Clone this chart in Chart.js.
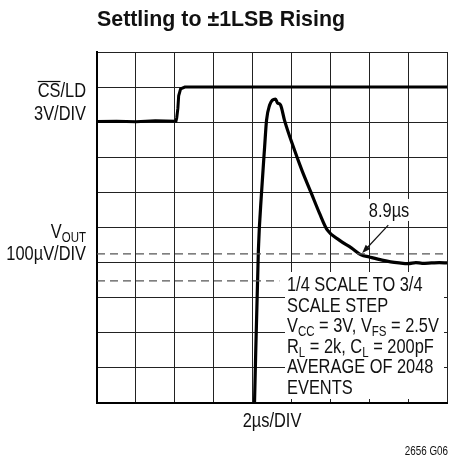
<!DOCTYPE html>
<html><head><meta charset="utf-8">
<script src="https://cdn.jsdelivr.net/npm/chart.js@4.4.0/dist/chart.umd.min.js"></script>
<style>html,body{margin:0;padding:0;background:#fff;}</style>
</head><body>
<canvas id="c" width="450" height="460"></canvas>
<script>
// ---- data (in screen divisions) ----
const titleText = 'Settling to ±1LSB Rising';
const xDivs = 9;
const yDivs = 10;
const csX = [0, 0.5, 1.0, 1.5, 2.03, 2.05, 2.08, 2.10, 2.15, 2.26, 3, 5, 7, 9];
const csY = [8.02, 8.03, 8.01, 8.04, 8.03, 8.12, 8.4, 8.75, 8.95, 9.0, 9.0, 9.0, 9.0, 9.0];
const voutX = [4.05, 4.15, 4.23, 4.31, 4.36, 4.44, 4.51, 4.59, 4.64, 4.72, 4.82, 5.08, 5.28, 5.51, 5.72, 5.92, 6.23, 6.54, 6.79, 7.00, 7.33, 7.55, 7.77, 8.00, 8.20, 8.36, 8.60, 8.80, 9.00];
const voutY = [0, 4.36, 5.98, 7.29, 8.06, 8.49, 8.63, 8.66, 8.55, 8.49, 8.06, 7.2, 6.6, 5.98, 5.41, 4.93, 4.64, 4.42, 4.22, 4.16, 4.07, 4.02, 3.99, 3.97, 4.0, 3.98, 3.99, 4.0, 3.99];
const band1X = [0, 9];
const band1Y = [4.25, 4.25];
const band2X = [0, 4.69];
const band2Y = [3.48, 3.48];
const arrowFrom = [7.49, 5.07];
const arrowTo = [6.82, 4.27];
const arrowLabel = '8.9µs';
const arrowLabelPos = [7.51, 5.5];
const xAxisLabel = '2µs/DIV';
const figureId = '2656 G06';
const noteLines = [
  [['1/4 SCALE TO 3/4', 0]],
  [['SCALE STEP', 0]],
  [['V', 0], ['CC', 1], [' = 3V, V', 0], ['FS', 1], [' = 2.5V', 0]],
  [['R', 0], ['L', 1], [' = 2k, C', 0], ['L', 1], [' = 200pF', 0]],
  [['AVERAGE OF 2048', 0]],
  [['EVENTS', 0]]
];

const FF = "'Liberation Sans', Arial, sans-serif";
const SX = 0.82; // condensed look
const pts = (xs, ys) => xs.map((x, i) => ({x, y: ys[i]}));

function drawRich(ctx, x, y, segs, size, align) {
  let total = 0;
  const widths = segs.map(([t, sub]) => {
    ctx.font = (sub ? Math.round(size * 0.72) : size) + 'px ' + FF;
    const w = ctx.measureText(t).width * SX; total += w; return w;
  });
  let cx = align === 'right' ? x - total : (align === 'center' ? x - total / 2 : x);
  segs.forEach(([t, sub], i) => {
    ctx.font = (sub ? Math.round(size * 0.72) : size) + 'px ' + FF;
    ctx.save();
    ctx.translate(cx, sub ? y + 4 : y);
    ctx.scale(SX, 1);
    ctx.textAlign = 'left';
    ctx.fillText(t, 0, 0);
    ctx.restore();
    cx += widths[i];
  });
  return total;
}

const deco = {
  id: 'deco',
  beforeDatasetsDraw(chart) {
    const {ctx, chartArea: a, scales: {x, y}} = chart;
    ctx.save();
    ctx.fillStyle = '#fff';
    ctx.fillRect(a.left + 188, a.top + 220, a.right - 3 - (a.left + 188), a.bottom - 4 - (a.top + 220));
    const lx = x.getPixelForValue(arrowLabelPos[0]), ly = y.getPixelForValue(arrowLabelPos[1]);
    ctx.fillRect(lx - 23, ly - 11, 46, 22);
    ctx.restore();
  },
  afterDraw(chart) {
    const {ctx, chartArea: a, scales: {x, y}} = chart;
    ctx.save();
    ctx.fillStyle = '#111';
    ctx.textBaseline = 'alphabetic';
    // title
    ctx.font = 'bold 22px ' + FF;
    const tw = ctx.measureText(titleText).width;
    ctx.save();
    ctx.translate(a.left, 26);
    ctx.scale(248 / tw, 1);
    ctx.textAlign = 'left';
    ctx.fillText(titleText, 0, 0);
    ctx.restore();
    // left labels
    const rx = a.left - 11;
    const w1 = drawRich(ctx, rx, 97, [['CS/LD', 0]], 20, 'right');
    ctx.font = '20px ' + FF;
    const csW = ctx.measureText('CS').width * SX;
    ctx.strokeStyle = '#111';
    ctx.lineWidth = 1.2;
    ctx.beginPath();
    ctx.moveTo(rx - w1, 81.5);
    ctx.lineTo(rx - w1 + csW, 81.5);
    ctx.stroke();
    drawRich(ctx, rx, 120, [['3V/DIV', 0]], 20, 'right');
    drawRich(ctx, rx, 238, [['V', 0], ['OUT', 1]], 20, 'right');
    drawRich(ctx, rx, 260, [['100µV/DIV', 0]], 20, 'right');
    // x-axis label
    drawRich(ctx, (a.left + a.right) / 2, a.bottom + 24, [[xAxisLabel, 0]], 20, 'center');
    // figure id
    drawRich(ctx, a.right + 1, 455, [[figureId, 0]], 12, 'right');
    // notes
    noteLines.forEach((segs, i) => {
      drawRich(ctx, a.left + 190, a.top + 239 + i * 20.6, segs, 20, 'left');
    });
    // arrow label
    const lx = x.getPixelForValue(arrowLabelPos[0]), ly = y.getPixelForValue(arrowLabelPos[1]);
    drawRich(ctx, lx, ly + 7, [[arrowLabel, 0]], 20, 'center');
    // arrow
    const x0 = x.getPixelForValue(arrowFrom[0]), y0 = y.getPixelForValue(arrowFrom[1]);
    const x1 = x.getPixelForValue(arrowTo[0]), y1 = y.getPixelForValue(arrowTo[1]);
    const ang = Math.atan2(y1 - y0, x1 - x0);
    ctx.lineWidth = 1.2;
    ctx.beginPath();
    ctx.moveTo(x0, y0);
    ctx.lineTo(x1 - 6 * Math.cos(ang), y1 - 6 * Math.sin(ang));
    ctx.stroke();
    ctx.beginPath();
    ctx.moveTo(x1, y1);
    ctx.lineTo(x1 - 9 * Math.cos(ang - 0.35), y1 - 9 * Math.sin(ang - 0.35));
    ctx.lineTo(x1 - 9 * Math.cos(ang + 0.35), y1 - 9 * Math.sin(ang + 0.35));
    ctx.closePath();
    ctx.fill();
    ctx.restore();
  }
};

const axisCommon = {
  type: 'linear',
  ticks: {display: false, stepSize: 1},
  grid: {color: '#222', lineWidth: 1, drawTicks: false},
  border: {display: true, color: '#000', width: 2}
};

new Chart(document.getElementById('c'), {
  type: 'line',
  data: {
    datasets: [
      {data: pts(band1X, band1Y), borderColor: '#555', borderWidth: 1.3, borderDash: [8, 5], pointRadius: 0},
      {data: pts(band2X, band2Y), borderColor: '#555', borderWidth: 1.3, borderDash: [8, 5], pointRadius: 0},
      {data: pts(csX, csY), borderColor: '#000', borderWidth: 3, pointRadius: 0, tension: 0},
      {data: pts(voutX, voutY), borderColor: '#000', borderWidth: 3.2, pointRadius: 0, cubicInterpolationMode: 'monotone'}
    ]
  },
  options: {
    responsive: false,
    animation: false,
    devicePixelRatio: 1,
    layout: {padding: {left: 97, top: 52, right: 3, bottom: 57}},
    plugins: {legend: {display: false}, tooltip: {enabled: false}, title: {display: false}},
    scales: {
      x: Object.assign({}, axisCommon, {min: 0, max: xDivs, afterFit: s => { s.height = 0; }}),
      y: Object.assign({}, axisCommon, {min: 0, max: yDivs, afterFit: s => { s.width = 0; }})
    }
  },
  plugins: [deco]
});
</script>
</body></html>
